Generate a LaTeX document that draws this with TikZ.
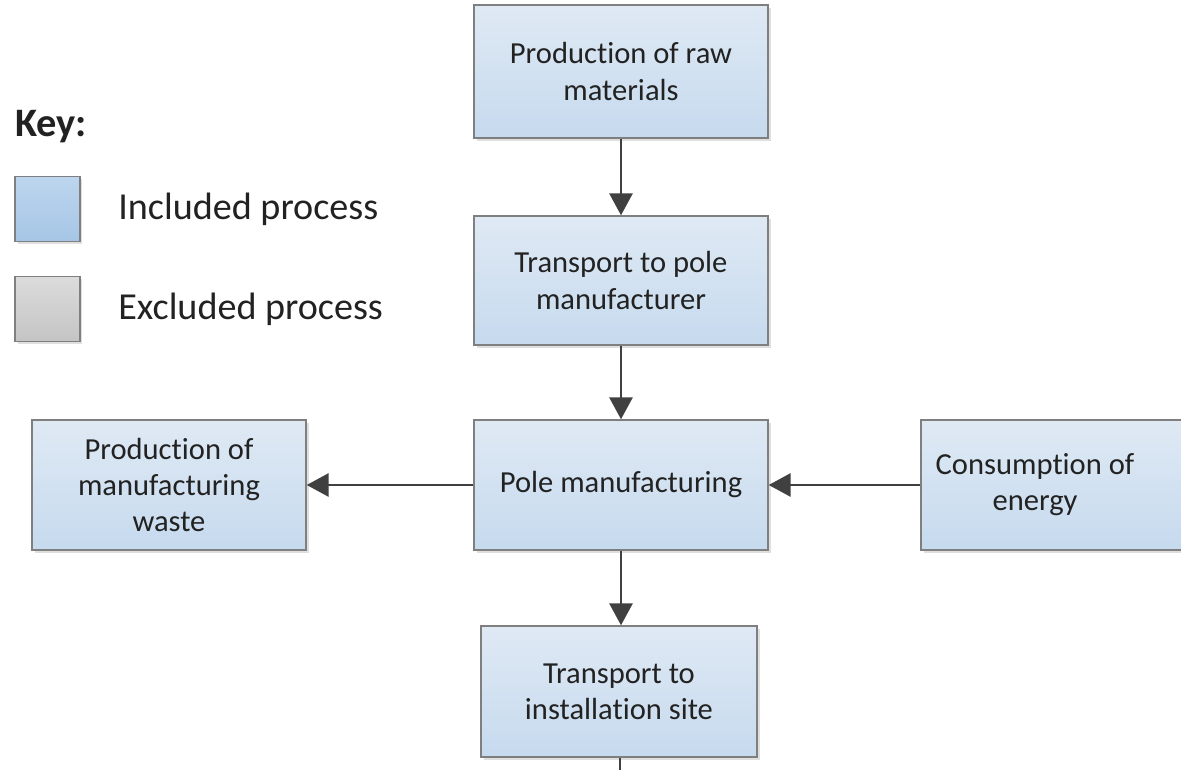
\documentclass[tikz,border=0pt]{standalone}
\usepackage{fontspec}
\setmainfont[Ligatures=NoCommon]{Carlito}
\usetikzlibrary{arrows.meta,shadows}
\definecolor{txt}{HTML}{222222}
\definecolor{arr}{HTML}{404040}
\definecolor{edge}{HTML}{7F7F7F}
\tikzset{
  box/.style={draw=edge, line width=0.8pt, top color=boxtop, bottom color=boxbot,
    align=center, text=txt, font=\fontsize{17.4}{20.5}\selectfont, inner sep=0pt,
    drop shadow={shadow xshift=0.06cm, shadow yshift=-0.06cm, opacity=0.25}},
  keyblue/.style={draw=edge, line width=0.8pt, top color=keyb1, bottom color=keyb2, inner sep=0pt,
    minimum width=1.3cm, minimum height=1.3cm,
    drop shadow={shadow xshift=0.05cm, shadow yshift=-0.05cm, opacity=0.25}},
  keygray/.style={draw=edge, line width=0.8pt, top color=keyg1, bottom color=keyg2, inner sep=0pt,
    minimum width=1.3cm, minimum height=1.3cm,
    drop shadow={shadow xshift=0.05cm, shadow yshift=-0.05cm, opacity=0.25}},
  keytext/.style={anchor=west, text=txt, font=\fontsize{21.7}{24}\selectfont, inner sep=0pt},
  flow/.style={draw=arr, line width=1.7pt, -{Triangle[length=0.44cm,width=0.46cm]}},
  plain/.style={draw=arr, line width=1.7pt}
}
\definecolor{boxtop}{HTML}{DFE9F4}
\definecolor{boxbot}{HTML}{C6DAEE}
\definecolor{keyb1}{HTML}{BDD5EE}
\definecolor{keyb2}{HTML}{A6C6E6}
\definecolor{keyg1}{HTML}{DCDCDC}
\definecolor{keyg2}{HTML}{C4C4C4}
\begin{document}
\begin{tikzpicture}[x=0.02cm,y=-0.02cm]
\useasboundingbox (0,0) rectangle (1181,770);
\clip (0,0) rectangle (1181,770);
\fill[white] (0,0) rectangle (1181,770);
% key
\node[anchor=west, text=txt, font=\bfseries\fontsize{23}{26}\selectfont, inner sep=0pt] (key) at (15,127) {Key:};
\node[keyblue] (kb) at (47.5,209) {};
\node[keygray] (kg) at (47.5,309) {};
\node[keytext] (kbt) at (118,209) {Included process};
\node[keytext] (kgt) at (118,309) {Excluded process};
% process boxes
\node[box, minimum width=5.88cm, minimum height=2.66cm] (raw) at (621,71.5) {Production of raw\\materials};
\node[box, minimum width=5.88cm, minimum height=2.58cm] (trans) at (621,280.5) {Transport to pole\\manufacturer};
\node[box, minimum width=5.88cm, minimum height=2.6cm] (pole) at (621,485) {Pole manufacturing};
\node[box, minimum width=5.48cm, minimum height=2.6cm] (waste) at (169,485) {Production of\\manufacturing\\waste};
\node[box, minimum width=6cm, minimum height=2.6cm] (energy) at (1071,485) {\hspace*{-1.44cm}Consumption of\\\hspace*{-1.44cm}energy};
\node[box, minimum width=5.52cm, minimum height=2.62cm] (inst) at (619,691.5) {Transport to\\installation site};
\coordinate (end) at (620,780);
% connectors
\draw[flow] (raw.south) -- (trans.north);
\draw[flow] (trans.south) -- (pole.north);
\draw[flow] (pole.west) -- (waste.east);
\draw[flow] (energy.west) -- (pole.east);
\draw[flow] (pole.south) -- (pole.south |- inst.north);
\draw[plain] (inst.south -| end) -- (end);
\end{tikzpicture}
\end{document}
